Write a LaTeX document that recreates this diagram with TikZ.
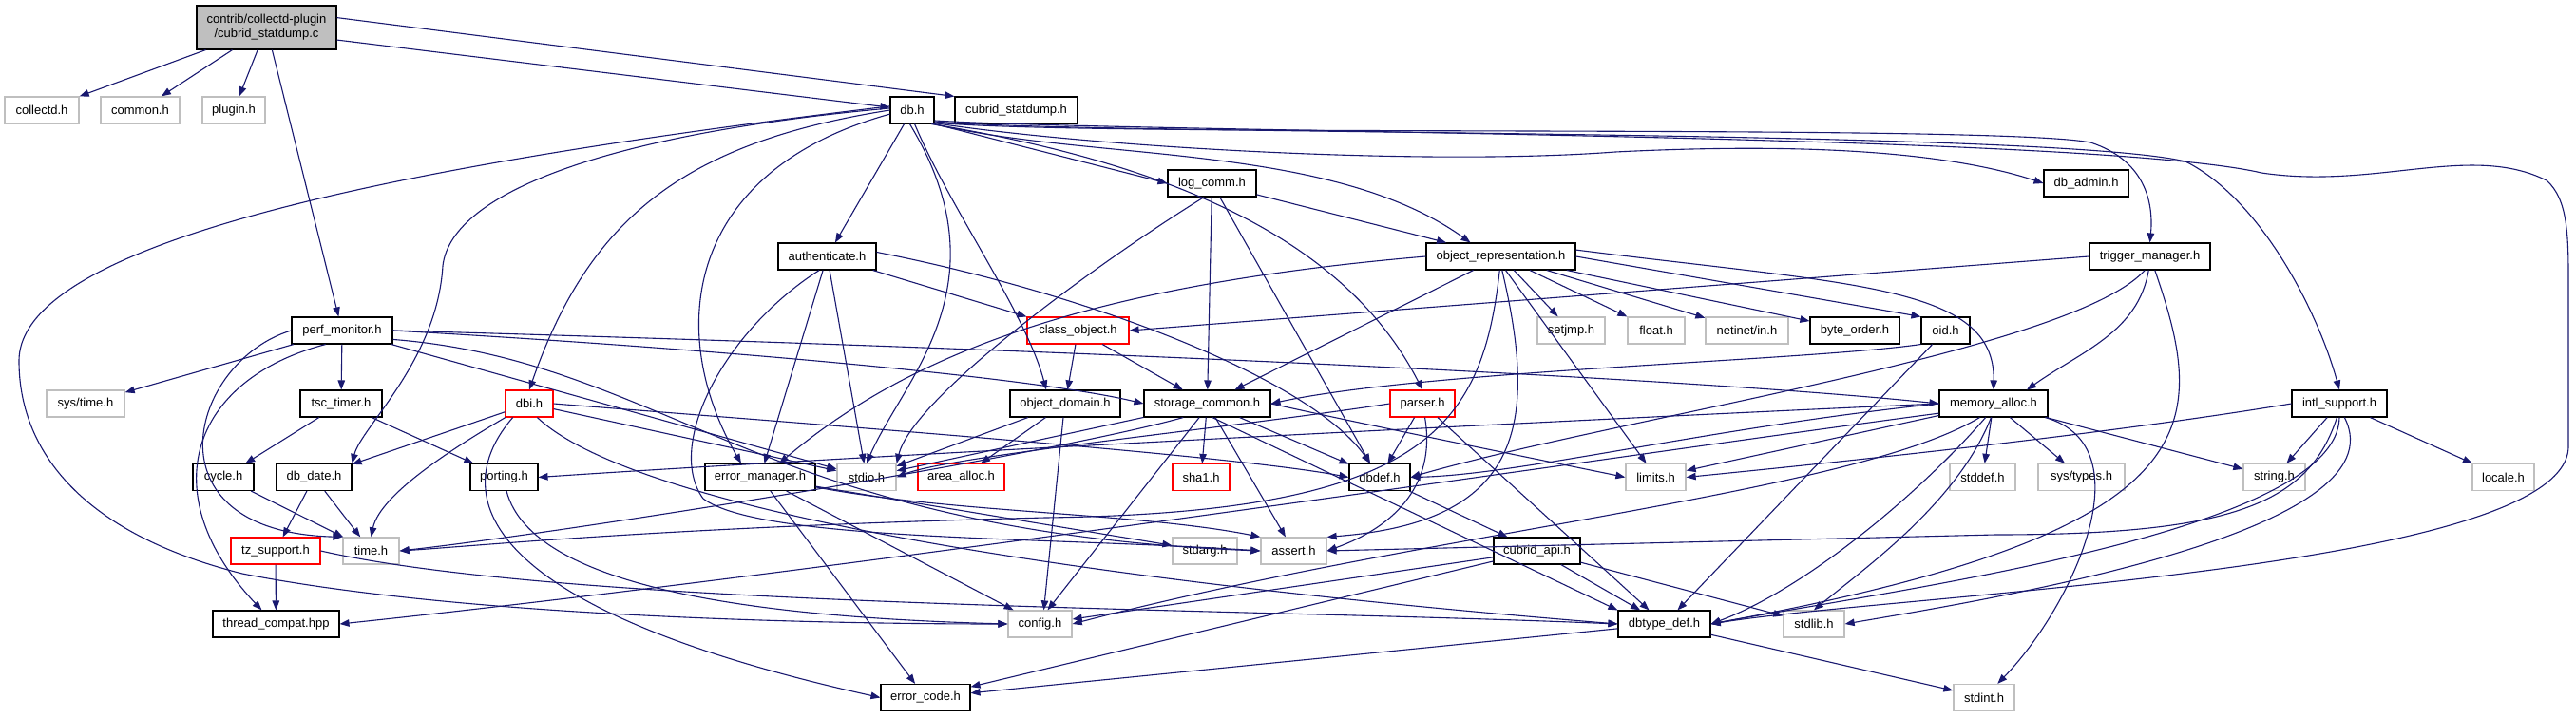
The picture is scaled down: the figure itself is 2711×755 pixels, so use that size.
\documentclass[tikz,border=0pt]{standalone}
\usepackage{fontspec}
\setmainfont{Liberation Sans}
\usetikzlibrary{arrows.meta}
\definecolor{eblue}{HTML}{191970}
\definecolor{gb}{HTML}{BFBFBF}
\begin{document}
\begin{tikzpicture}[x=1pt,y=-1pt,
  nb/.style={draw=black, line width=1.1pt, minimum height=28pt, inner sep=0pt, fill=white, font=\fontsize{13}{15}\selectfont},
  ng/.style={nb, draw=gb, line width=1.3pt},
  nr/.style={nb, draw=red},
  e/.style={draw=eblue, line width=1.1pt, -{Triangle[length=10pt,width=7.5pt]}}]
\fill[white] (0,0) rectangle (2711,755);
\useasboundingbox (0,0) rectangle (2711,755);
% nodes
\node[nb, fill=gb, minimum width=147pt, minimum height=46pt, align=center] (m) at (280.5,29) {contrib/collectd-plugin\\/cubrid\_statdump.c};
\node[ng, minimum width=78pt] (collectd) at (44,116) {collectd.h};
\node[ng, minimum width=83pt] (common) at (147.5,116) {common.h};
\node[ng, minimum width=66pt] (plugin) at (246,116) {plugin.h};
\node[nb, minimum width=46pt] (db) at (960,116) {db.h};
\node[nb, minimum width=129pt] (cstat) at (1069.5,116) {cubrid\_statdump.h};
\node[nb, minimum width=93pt] (logcomm) at (1275.5,193) {log\_comm.h};
\node[nb, minimum width=89pt] (dbadmin) at (2195.5,193) {db\_admin.h};
\node[nb, minimum width=103pt] (auth) at (870.5,270) {authenticate.h};
\node[nb, minimum width=157pt] (objrep) at (1579.5,270) {object\_representation.h};
\node[nb, minimum width=127pt] (trigger) at (2262.5,270) {trigger\_manager.h};
\node[nb, minimum width=106pt] (perf) at (360,348) {perf\_monitor.h};
\node[nr, minimum width=107pt] (classobj) at (1134.5,348) {class\_object.h};
\node[ng, minimum width=71pt] (setjmp) at (1653.5,348) {setjmp.h};
\node[ng, minimum width=60pt] (float) at (1743,348) {float.h};
\node[ng, minimum width=87pt] (netinet) at (1838.5,348) {netinet/in.h};
\node[nb, minimum width=94pt] (byteorder) at (1952,348) {byte\_order.h};
\node[nb, minimum width=51pt] (oid) at (2047.5,348) {oid.h};
\node[ng, minimum width=82pt] (systime) at (90,425) {sys/time.h};
\node[nb, minimum width=86pt] (tsc) at (359,425) {tsc\_timer.h};
\node[nr, minimum width=50pt] (dbi) at (557,425) {dbi.h};
\node[nb, minimum width=116pt] (objdomain) at (1121,425) {object\_domain.h};
\node[nb, minimum width=133pt] (storage) at (1270.5,425) {storage\_common.h};
\node[nr, minimum width=68pt] (parser) at (1497,425) {parser.h};
\node[nb, minimum width=114pt] (memalloc) at (2098,425) {memory\_alloc.h};
\node[nb, minimum width=100pt] (intl) at (2462,425) {intl\_support.h};
\node[nb, minimum width=64pt] (cycle) at (235,502.5) {cycle.h};
\node[nb, minimum width=79pt] (dbdate) at (330.5,502.5) {db\_date.h};
\node[nb, minimum width=71pt] (porting) at (530.5,502.5) {porting.h};
\node[nb, minimum width=116pt] (errmgr) at (800,502.5) {error\_manager.h};
\node[ng, minimum width=62pt] (stdio) at (912,502.5) {stdio.h};
\node[nr, minimum width=91pt] (areaalloc) at (1011.5,502.5) {area\_alloc.h};
\node[nr, minimum width=60pt] (sha1) at (1264,502.5) {sha1.h};
\node[nb, minimum width=64pt] (dbdef) at (1452,502.5) {dbdef.h};
\node[ng, minimum width=63pt] (limits) at (1742.5,502.5) {limits.h};
\node[ng, minimum width=69pt] (stddef) at (2086.5,502.5) {stddef.h};
\node[ng, minimum width=91pt] (systypes) at (2190.5,502.5) {sys/types.h};
\node[ng, minimum width=65pt] (string) at (2393.5,502.5) {string.h};
\node[ng, minimum width=65pt] (locale) at (2634.5,502.5) {locale.h};
\node[nr, minimum width=94pt] (tz) at (290,580) {tz\_support.h};
\node[ng, minimum width=59pt] (time) at (390.5,580) {time.h};
\node[ng, minimum width=68pt] (stdarg) at (1268,580) {stdarg.h};
\node[ng, minimum width=69pt] (assert) at (1361.5,580) {assert.h};
\node[nb, minimum width=91pt] (capi) at (1617.5,580) {cubrid\_api.h};
\node[nb, minimum width=133pt] (thread) at (290.5,657) {thread\_compat.hpp};
\node[ng, minimum width=67pt] (config) at (1094.5,657) {config.h};
\node[nb, minimum width=97pt] (dbtypedef) at (1751.5,657) {dbtype\_def.h};
\node[ng, minimum width=64pt] (stdlib) at (1909,657) {stdlib.h};
\node[nb, minimum width=94pt] (errcode) at (974,734.5) {error\_code.h};
\node[ng, minimum width=64pt] (stdint) at (2088,734.5) {stdint.h};
% main
\draw[e] (m) -- (collectd);
\draw[e] (m) -- (common);
\draw[e] (m) -- (plugin);
\draw[e] (m) -- (perf);
\draw[e] (m.-10) -- (db);
\draw[e] (m.8) -- (cstat.north west);
% db.h
\draw[e] (db.south east) -- (logcomm.west);
\draw[e] (db.-30) .. controls (1150,155) and (1500,175) .. (1700,160) .. controls (1900,150) and (2050,160) .. (dbadmin.west);
\draw[e] (db) -- (auth);
\draw[e] (db.-33) .. controls (1150,170) and (1400,150) .. ([xshift=-32pt]objrep.north);
\draw[e] (db.-29) .. controls (1150,145) and (2100,130) .. (2200,150) .. controls (2262,170) and (2266,220) .. (trigger.north);
\draw[e] (db.-27) .. controls (1150,143) and (2150,135) .. (2300,170) .. controls (2380,210) and (2440,330) .. (intl.north);
\draw[e] (db.-25) .. controls (1200,140) and (2200,140) .. (2380,182) .. controls (2500,200) and (2600,150) .. (2680,190) .. controls (2703,210) and (2703,250) .. (2703,300) -- (2703,470) .. controls (2703,600) and (2000,625) .. (dbtypedef.east);
\draw[e] (db.west) .. controls (720,150) and (620,230) .. (dbi.north);
\draw[e] (db.175) .. controls (650,140) and (475,200) .. (466,280) .. controls (460,380) and (380,450) .. (dbdate.north east);
\draw[e] (db.170) .. controls (450,170) and (20,250) .. (20,380) .. controls (20,470) and (80,560) .. (255,604) .. controls (500,652) and (900,657) .. (config.west);
\draw[e] (db.190) .. controls (720,180) and (700,350) .. ([xshift=-20pt]errmgr.north);
\draw[e] (db.-100) .. controls (1060,300) and (950,400) .. (stdio.north);
\draw[e] (db.-80) .. controls (1000,220) and (1080,330) .. ([xshift=-20pt]objdomain.north);
\draw[e] (db.-36) .. controls (1250,175) and (1420,260) .. (parser.north);
% authenticate.h
\draw[e] (auth) -- (classobj.north west);
\draw[e] (auth) -- (errmgr);
\draw[e] (auth) -- (stdio);
\draw[e] (auth.5) .. controls (1150,310) and (1380,400) .. ([xshift=-10pt]dbdef.north);
\draw[e] (auth.-120) .. controls (760,350) and (700,470) .. (740,525) .. controls (800,570) and (1100,565) .. (assert.west);
% log_comm.h
\draw[e] (logcomm) -- (objrep);
\draw[e] (logcomm) -- (storage);
\draw[e] (logcomm.-120) .. controls (1150,280) and (960,420) .. (stdio.north east);
\draw[e] (logcomm) -- ([xshift=-10pt]dbdef.north);
% object_representation.h
\draw[e] (objrep) -- (storage);
\draw[e] (objrep.west) .. controls (1150,300) and (960,370) .. ([xshift=20pt]errmgr.north);
\draw[e] (objrep) -- (setjmp);
\draw[e] (objrep) -- (float);
\draw[e] (objrep) -- (netinet);
\draw[e] (objrep) -- (byteorder);
\draw[e] (objrep.east) -- (oid.north west);
\draw[e] (objrep.5) .. controls (1950,300) and (2100,300) .. (memalloc.north);
\draw[e] ([xshift=5pt]objrep.south) -- ([xshift=-10pt]limits.north);
\draw[e] (objrep.-95) .. controls (1560,450) and (1500,540) .. (1100,545) .. controls (700,555) and (500,575) .. (time.east);
\draw[e] (objrep.-85) .. controls (1620,450) and (1600,550) .. (assert.north east);
% trigger_manager.h
\draw[e] (trigger.west) -- (classobj.east);
\draw[e] (trigger.-95) .. controls (2250,350) and (2190,370) .. ([xshift=35pt]memalloc.north);
\draw[e] (trigger.-110) .. controls (2180,370) and (1700,440) .. (dbdef.east);
\draw[e] (trigger.-70) .. controls (2325,450) and (2330,560) .. (dbtypedef.east);
% perf_monitor.h
\draw[e] (perf) -- (systime);
\draw[e] (perf) -- (tsc);
\draw[e] (perf.west) .. controls (200,380) and (150,560) .. (time.north west);
\draw[e] (perf.-140) .. controls (200,400) and (160,520) .. ([xshift=-15pt]thread.north);
\draw[e] (perf.east) .. controls (1200,370) and (1800,400) .. (memalloc.west);
\draw[e] (perf.east) .. controls (800,370) and (1100,400) .. (storage.west);
\draw[e] (perf) -- (stdio);
\draw[e] (perf.-10) .. controls (700,380) and (800,560) .. (assert.west);
% class_object.h
\draw[e] (classobj) -- (objdomain);
\draw[e] (classobj) -- (storage);
% oid.h
\draw[e] (oid.south west) .. controls (1900,380) and (1500,390) .. (storage.east);
\draw[e] (oid) -- (dbtypedef);
% tsc_timer.h
\draw[e] (tsc) -- (cycle);
\draw[e] (tsc) -- (porting);
% dbi.h
\draw[e] (dbi) -- (dbdate);
\draw[e] (dbi.-150) .. controls (480,470) and (400,520) .. (time.north);
\draw[e] (dbi.-140) .. controls (470,520) and (500,640) .. (errcode.west);
\draw[e] (dbi.-60) .. controls (650,520) and (1000,600) .. (dbtypedef.west);
\draw[e] (dbi.east) .. controls (900,450) and (1300,480) .. (dbdef.west);
\draw[e] (dbi) -- (stdio);
% object_domain.h
\draw[e] (objdomain) -- (stdio);
\draw[e] (objdomain) -- (areaalloc);
\draw[e] ([xshift=-2pt]objdomain.south) -- ([xshift=4pt]config.north);
% storage_common.h
\draw[e] (storage) -- (stdio);
\draw[e] (storage.-150) .. controls (1100,480) and (600,560) .. (time.east);
\draw[e] (storage) -- (sha1);
\draw[e] (storage) -- (dbdef);
\draw[e] (storage.east) .. controls (1450,450) and (1650,490) .. (limits.west);
\draw[e] (storage.-120) -- ([xshift=8pt]config.north);
\draw[e] (storage) -- (assert);
\draw[e] (storage.-70) -- (dbtypedef.north west);
% parser.h
\draw[e] (parser.west) .. controls (1300,450) and (1000,480) .. (stdio.east);
\draw[e] (parser) -- (dbdef);
\draw[e] (parser.-80) .. controls (1510,500) and (1480,550) .. (assert.east);
\draw[e] (parser) -- (dbtypedef);
% memory_alloc.h
\draw[e] (memalloc) -- (limits);
\draw[e] (memalloc.west) .. controls (1800,450) and (1600,500) .. (dbdef.east);
\draw[e] (memalloc.west) .. controls (1700,440) and (900,480) .. (porting.east);
\draw[e] (memalloc.-170) .. controls (1700,480) and (900,600) .. (thread.east);
\draw[e] (memalloc) -- (stddef);
\draw[e] (memalloc) -- (systypes);
\draw[e] (memalloc) -- (string);
\draw[e] (memalloc.-15) .. controls (2260,470) and (2180,640) .. (stdint);
\draw[e] (memalloc.-120) .. controls (2020,520) and (1900,620) .. (dbtypedef.east);
\draw[e] (memalloc.-100) .. controls (2060,530) and (1960,600) .. (stdlib.north);
\draw[e] (memalloc.-135) .. controls (1950,520) and (1500,560) .. (config.east);
% intl_support.h
\draw[e] (intl.west) .. controls (2200,460) and (1900,490) .. (limits.east);
\draw[e] (intl) -- (string);
\draw[e] (intl) -- (locale);
\draw[e] (intl.-100) .. controls (2430,530) and (2350,563) .. (2100,563) -- (assert.east);
\draw[e] (intl.-90) .. controls (2460,560) and (2000,620) .. (dbtypedef.east);
\draw[e] (intl.-70) .. controls (2530,560) and (2100,630) .. (stdlib.east);
% error_manager.h
\draw[e] (errmgr) -- (errcode);
\draw[e] (errmgr) -- (config);
\draw[e] (errmgr) -- (stdarg);
\draw[e] (errmgr.-10) .. controls (1000,540) and (1200,540) .. (assert.north west);
% others
\draw[e] (cycle) -- (time);
\draw[e] (dbdate) -- (tz);
\draw[e] (dbdate) -- (time);
\draw[e] (tz) -- (thread);
\draw[e] (tz.east) .. controls (600,640) and (1300,640) .. (dbtypedef.west);
\draw[e] (porting.-80) .. controls (560,620) and (800,650) .. (config.west);
\draw[e] (dbdef) -- (capi);
\draw[e] (capi) -- (config);
\draw[e] (capi) -- (errcode);
\draw[e] (capi) -- (dbtypedef);
\draw[e] (capi) -- (stdlib);
\draw[e] (dbtypedef) -- (errcode);
\draw[e] (dbtypedef) -- (stdint);
\end{tikzpicture}
\end{document}
